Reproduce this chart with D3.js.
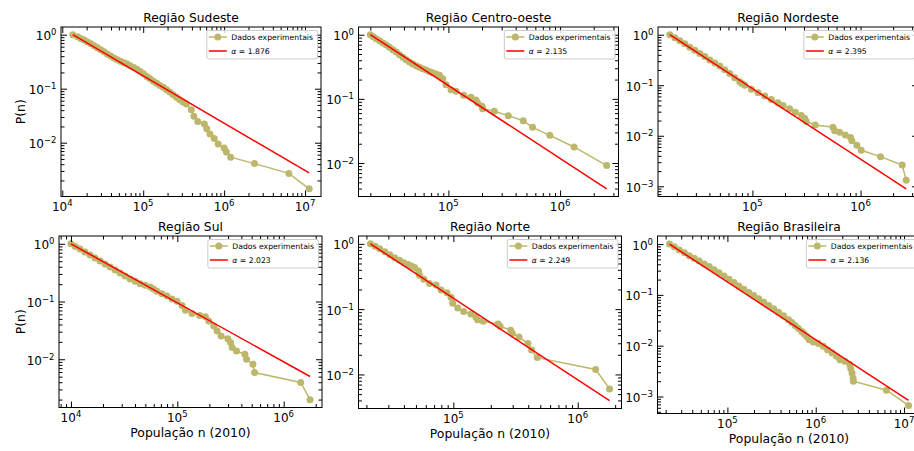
<!DOCTYPE html>
<html>
<head>
<meta charset="utf-8">
<script src="https://cdn.jsdelivr.net/npm/d3@7"></script>
<style>
  body { margin: 0; background: #fff; }
  svg { display: block; font-family: "DejaVu Sans", sans-serif; }
</style>
</head>
<body>
<div id="canvas"></div>
<script>
// Titles and fitted exponents, one per panel
const regionTitles = ["Região Sudeste", "Região Centro-oeste", "Região Nordeste",
                      "Região Sul", "Região Norte", "Região Brasileira"];
const alphas = [1.876, 2.135, 2.395, 2.023, 2.249, 2.136];

// Population n and P(n)
const sudesteN = [13500, 15520, 17060, 18710, 20560, 22590, 24770, 27230, 29850, 32830, 36060, 39630, 43450, 47780, 52360, 57570, 63240, 69340, 76210, 83750, 91830, 100900, 110900, 121700, 133700, 146900, 161100, 177000, 194500, 213300, 234400, 257400, 282000, 310500, 341200, 392600, 422900, 473000, 570300, 609400, 668600, 755300, 845000, 1000000, 1067000, 1205000, 2375000, 6320000, 11250000];
const sudesteP = [1.0, 0.918, 0.843, 0.797, 0.731, 0.681, 0.625, 0.574, 0.527, 0.484, 0.438, 0.403, 0.370, 0.344, 0.321, 0.303, 0.286, 0.267, 0.248, 0.228, 0.209, 0.190, 0.169, 0.153, 0.137, 0.126, 0.115, 0.106, 0.0958, 0.0867, 0.0774, 0.0691, 0.0625, 0.0566, 0.0520, 0.0408, 0.0308, 0.0248, 0.0222, 0.0182, 0.0145, 0.0119, 0.00944, 0.00796, 0.00671, 0.0054, 0.0041, 0.0027, 0.0014];

const centroN = [20000, 21230, 22600, 24210, 25970, 27750, 29720, 31830, 34120, 36520, 39080, 41880, 44870, 48050, 51400, 55080, 59020, 63180, 67600, 72480, 77620, 83180, 88960, 95290, 105600, 117000, 137000, 159300, 176500, 182700, 199900, 202700, 257700, 343600, 467700, 566400, 809000, 1334000, 2612000];
const centroP = [1.0, 0.931, 0.867, 0.807, 0.741, 0.690, 0.635, 0.584, 0.537, 0.488, 0.444, 0.408, 0.375, 0.349, 0.329, 0.310, 0.295, 0.282, 0.268, 0.256, 0.244, 0.233, 0.206, 0.166, 0.139, 0.131, 0.1135, 0.1057, 0.0960, 0.0862, 0.0765, 0.0703, 0.0639, 0.0548, 0.0457, 0.0360, 0.0270, 0.0178, 0.00912];

const nordesteN = [17220, 19190, 21330, 23720, 26360, 29330, 32610, 36290, 40360, 44870, 49890, 55460, 61660, 68710, 76380, 80170, 84920, 97810, 112700, 130000, 149600, 172600, 191900, 220900, 249500, 283300, 304000, 314800, 381100, 555400, 575800, 640300, 721600, 808400, 832200, 925500, 1014000, 1530000, 2428000, 2642000];
const nordesteP = [1.0, 0.871, 0.759, 0.661, 0.566, 0.493, 0.423, 0.369, 0.316, 0.275, 0.240, 0.203, 0.171, 0.140, 0.117, 0.108, 0.100, 0.0832, 0.0713, 0.0612, 0.0525, 0.0450, 0.0398, 0.0341, 0.0293, 0.0251, 0.0222, 0.0191, 0.0163, 0.0147, 0.0126, 0.0117, 0.0103, 0.00926, 0.00794, 0.00651, 0.00517, 0.00386, 0.00263, 0.00132];

const sulN = [10000, 10990, 12160, 13550, 15110, 16840, 18780, 20930, 23340, 26010, 28990, 32300, 36030, 40160, 44770, 49890, 55620, 59810, 64300, 71670, 79910, 89130, 99300, 110700, 118900, 137400, 162500, 183800, 197600, 220300, 236700, 258100, 298300, 316200, 328000, 360400, 431800, 447500, 513700, 532400, 1445000, 1769000];
const sulP = [1.0, 0.899, 0.809, 0.718, 0.637, 0.566, 0.502, 0.446, 0.396, 0.352, 0.312, 0.277, 0.246, 0.224, 0.204, 0.191, 0.179, 0.165, 0.151, 0.136, 0.124, 0.111, 0.101, 0.0853, 0.0709, 0.0621, 0.0574, 0.0544, 0.0458, 0.0376, 0.0308, 0.0253, 0.0227, 0.0194, 0.0159, 0.0139, 0.0122, 0.0100, 0.0082, 0.00589, 0.00396, 0.00199];

const norteN = [21540, 23500, 25590, 28050, 30760, 33730, 36980, 40060, 43130, 45850, 48750, 52480, 53460, 57920, 64270, 72660, 79680, 88960, 95740, 98850, 108300, 121000, 138400, 151800, 156600, 173800, 229100, 237700, 289300, 298400, 337300, 398100, 425900, 472800, 1393000, 1803000];
const norteP = [1.0, 0.922, 0.840, 0.757, 0.681, 0.614, 0.559, 0.515, 0.481, 0.459, 0.433, 0.385, 0.331, 0.288, 0.248, 0.234, 0.196, 0.179, 0.152, 0.123, 0.104, 0.0922, 0.0840, 0.0757, 0.0689, 0.0650, 0.0593, 0.0546, 0.0475, 0.0423, 0.0373, 0.0299, 0.0236, 0.0181, 0.0119, 0.0060];

const brasilN = [22080, 25120, 28590, 32580, 37040, 42170, 47960, 54580, 62180, 70790, 80540, 91620, 104300, 118800, 135200, 153800, 175000, 199000, 226500, 258200, 293800, 334200, 380200, 432500, 492400, 537000, 584800, 638300, 695000, 739100, 792000, 841000, 940000, 1071000, 1219000, 1362000, 1538000, 1721000, 1877000, 2134000, 2427000, 2494000, 2582000, 2650000, 2670000, 6320000, 11250000];
const brasilP = [1.0, 0.887, 0.762, 0.676, 0.590, 0.524, 0.464, 0.405, 0.360, 0.314, 0.274, 0.236, 0.203, 0.175, 0.150, 0.129, 0.111, 0.0970, 0.0835, 0.0718, 0.0618, 0.0531, 0.0457, 0.0387, 0.0324, 0.0287, 0.0251, 0.0219, 0.0191, 0.0172, 0.0152, 0.0131, 0.0118, 0.0111, 0.0097, 0.00835, 0.00718, 0.00618, 0.00531, 0.00493, 0.00424, 0.00354, 0.00291, 0.00232, 0.0020, 0.00133, 0.000667];

const width = 914, height = 451;
const olive = "#bdb76b";

// axes boxes: [left, top, width, height]
const panels = [
    { n: sudesteN,  p: sudesteP,  box: [61, 27, 260, 169.5],     ylab: true,  xlab: false },
    { n: centroN,   p: centroP,   box: [358.5, 27, 260, 169.5],  ylab: false, xlab: false },
    { n: nordesteN, p: nordesteP, box: [658, 27, 260, 169.5],    ylab: false, xlab: false },
    { n: sulN,      p: sulP,      box: [59, 236, 263, 171.5],    ylab: true,  xlab: true },
    { n: norteN,    p: norteP,    box: [358.5, 236, 263, 172.5], ylab: false, xlab: true },
    { n: brasilN,   p: brasilP,   box: [657.5, 236, 263, 177.5], ylab: false, xlab: true }
];

// matplotlib-like 5% margin in log space
function padLog(vals) {
    const l = vals.map(Math.log10);
    const lo = d3.min(l), hi = d3.max(l), pad = (hi - lo) * 0.05;
    return [10 ** (lo - pad), 10 ** (hi + pad)];
}

function logTicks([a, b]) {
    const lo = Math.log10(a), hi = Math.log10(b);
    const major = d3.range(Math.ceil(lo), Math.floor(hi) + 1).map(e => 10 ** e);
    const minor = [];
    for (let e = Math.floor(lo); e <= Math.ceil(hi); e++) {
        for (let k = 2; k < 10; k++) {
            const v = k * 10 ** e;
            if (v >= a && v <= b) minor.push(v);
        }
    }
    return { major, minor };
}

function powLabel(g, x, y, v, anchor) {
    const e = Math.round(Math.log10(v));
    const t = g.append("text")
        .attr("x", x).attr("y", y)
        .attr("text-anchor", anchor)
        .attr("font-size", 12)
        .attr("fill", "#000");
    t.append("tspan").text("10");
    t.append("tspan").attr("dy", -5).attr("font-size", 8.5)
        .text(e < 0 ? "\u2212" + (-e) : String(e));
}

const svg = d3.select("#canvas")
    .append("svg")
    .attr("width", width)
    .attr("height", height)
    .attr("viewBox", [0, 0, width, height]);

svg.append("rect").attr("width", width).attr("height", height).attr("fill", "#fff");

panels.forEach((d, i) => {
    const [bx, by, bw, bh] = d.box;
    const alpha = alphas[i];
    const n0 = d.n[0], n1 = d.n[d.n.length - 1];
    // fitted power law P(n) = (n/n0)^(1-alpha)
    const fit = [n0, n1].map(v => [v, Math.pow(v / n0, 1 - alpha)]);

    const xDom = padLog(d.n);
    const yDom = padLog(d.p.concat(fit.map(f => f[1])));
    const x = d3.scaleLog().domain(xDom).range([bx, bx + bw]);
    const y = d3.scaleLog().domain(yDom).range([by + bh, by]);

    const g = svg.append("g");
    g.append("clipPath").attr("id", "clip" + i)
        .append("rect").attr("x", bx).attr("y", by).attr("width", bw).attr("height", bh);

    const plot = g.append("g").attr("clip-path", `url(#clip${i})`);
    const pts = d.n.map((v, k) => [v, d.p[k]]);
    const line = d3.line().x(e => x(e[0])).y(e => y(e[1]));

    plot.append("path").datum(pts)
        .attr("d", line)
        .attr("fill", "none")
        .attr("stroke", olive)
        .attr("stroke-width", 1.5);
    plot.append("g").selectAll("circle")
        .data(pts)
        .join("circle")
        .attr("cx", e => x(e[0]))
        .attr("cy", e => y(e[1]))
        .attr("r", 3.5)
        .attr("fill", olive);
    plot.append("path").datum(fit)
        .attr("d", line)
        .attr("fill", "none")
        .attr("stroke", "#ff0000")
        .attr("stroke-width", 1.5);

    // ticks on all four sides, pointing in
    const xt = logTicks(xDom), yt = logTicks(yDom);
    const sides = [
        [d3.axisBottom, x, `translate(0,${by + bh})`, xt],
        [d3.axisTop, x, `translate(0,${by})`, xt],
        [d3.axisLeft, y, `translate(${bx},0)`, yt],
        [d3.axisRight, y, `translate(${bx + bw},0)`, yt]
    ];
    sides.forEach(([make, sc, tr, t]) => {
        [[t.minor, 3.5], [t.major, 6]].forEach(([vals, len]) => {
            g.append("g")
                .attr("transform", tr)
                .call(make(sc).tickValues(vals).tickSize(-len).tickSizeOuter(0).tickFormat(""))
                .call(s => s.select(".domain").remove())
                .call(s => s.selectAll("line").attr("stroke", "#000").attr("stroke-width", 1));
        });
    });

    g.append("rect")
        .attr("x", bx).attr("y", by).attr("width", bw).attr("height", bh)
        .attr("fill", "none").attr("stroke", "#000").attr("stroke-width", 1);

    // tick labels
    xt.major.forEach(v => powLabel(g, x(v), by + bh + 14.5, v, "middle"));
    yt.major.forEach(v => powLabel(g, bx - 4.5, y(v) + 5.5, v, "end"));

    // title and axis labels
    g.append("text")
        .attr("x", bx + bw / 2).attr("y", by - 5.5)
        .attr("text-anchor", "middle")
        .attr("font-size", 12.3)
        .text(regionTitles[i]);

    if (d.ylab) {
        g.append("text")
            .attr("transform", `translate(25,${by + bh / 2}) rotate(-90)`)
            .attr("text-anchor", "middle")
            .attr("font-size", 12.4)
            .text("P(n)");
    }
    if (d.xlab) {
        g.append("text")
            .attr("x", bx + bw / 2).attr("y", by + bh + 29.5)
            .attr("text-anchor", "middle")
            .attr("font-size", 12.4)
            .text("População n (2010)");
    }

    // legend, upper right
    const leg = g.append("g");
    const frame = leg.append("rect")
        .attr("fill", "#fff").attr("fill-opacity", 0.8)
        .attr("stroke", "#cccccc").attr("stroke-width", 1)
        .attr("rx", 2);
    const t1 = leg.append("text").attr("font-size", 7.7).text("Dados experimentais");
    const t2 = leg.append("text").attr("font-size", 7.7);
    t2.append("tspan").attr("font-style", "italic").text("α");
    t2.append("tspan").text(" = " + alphas[i].toFixed(3));
    const tw = Math.max(t1.node().getComputedTextLength(), t2.node().getComputedTextLength());
    const lw = 24.5 + tw + 4.5, lh = 28.5;
    const lx = bx + bw - 3.5 - lw, ly = by + 3.5;
    frame.attr("x", lx).attr("y", ly).attr("width", lw).attr("height", lh);
    const r1 = ly + 6.5, r2 = ly + 20.5;
    leg.append("line").attr("x1", lx + 2).attr("x2", lx + 20).attr("y1", r1).attr("y2", r1)
        .attr("stroke", olive).attr("stroke-width", 1.5);
    leg.append("circle").attr("cx", lx + 11).attr("cy", r1).attr("r", 3.5).attr("fill", olive);
    leg.append("line").attr("x1", lx + 2).attr("x2", lx + 20).attr("y1", r2).attr("y2", r2)
        .attr("stroke", "#ff0000").attr("stroke-width", 1.5);
    t1.attr("x", lx + 24.5).attr("y", r1 + 2.8);
    t2.attr("x", lx + 24.5).attr("y", r2 + 2.8);
    t1.raise(); t2.raise();
});
</script>
</body>
</html>
